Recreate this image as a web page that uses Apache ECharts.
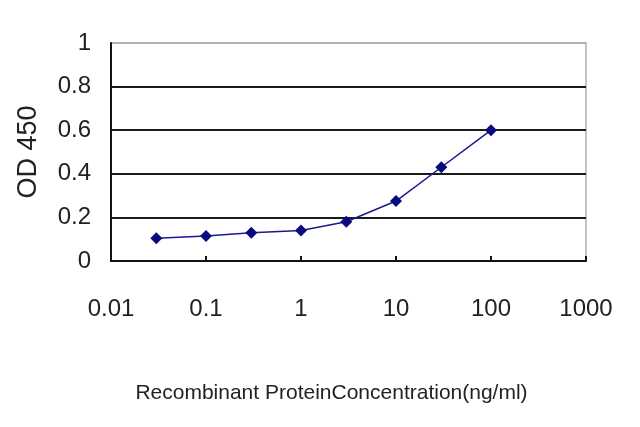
<!DOCTYPE html>
<html>
<head>
<meta charset="utf-8">
<script src="https://cdn.jsdelivr.net/npm/echarts@6/dist/echarts.min.js"></script>
<style>
html, body { margin: 0; padding: 0; background: #fff; }
#chart { width: 640px; height: 427px; }
</style>
</head>
<body>
<div id="chart"></div>
<script>
// concentration (ng/ml) and OD 450 readings
var concentrations = [0.03, 0.1, 0.3, 1, 3, 10, 30, 100];
var odValues = [0.104, 0.115, 0.13, 0.14, 0.18, 0.275, 0.43, 0.60];
var yTicks = [0, 0.2, 0.4, 0.6, 0.8, 1];

var points = [];
for (var i = 0; i < concentrations.length; i++) {
	points.push([concentrations[i], odValues[i]]);
}

var myChart = echarts.init(document.getElementById('chart'));
var option = {
	animation: false,
	textStyle: { fontFamily: 'Liberation Sans' },
	grid: {
		left: 111,
		right: 54,
		top: 43,
		bottom: 166,
		containLabel: false,
		outerBoundsMode: 'none',
		show: true,
		borderColor: '#b0b0b0',
		borderWidth: 1.5,
		backgroundColor: '#fff'
	},
	xAxis: {
		type: 'log',
		logBase: 10,
		min: 0.01,
		max: 1000,
		name: 'Recombinant ProteinConcentration(ng/ml)',
		nameLocation: 'middle',
		nameGap: 122,
		nameTextStyle: { fontSize: 21, color: '#222', padding: [0, 34, 0, 0] },
		axisLine: { show: true, lineStyle: { color: '#111', width: 2 } },
		axisTick: { show: true, inside: true, length: 5, lineStyle: { color: '#111', width: 2 } },
		axisLabel: {
			fontSize: 24,
			color: '#222',
			margin: 36,
			formatter: function(v) { return String(v); }
		},
		splitLine: { show: false },
		minorTick: { show: false }
	},
	yAxis: {
		type: 'value',
		min: 0,
		max: 1,
		interval: 0.2,
		name: 'OD 450',
		nameLocation: 'middle',
		nameGap: 69,
		nameTextStyle: { fontSize: 27, color: '#222' },
		axisLine: { show: true, lineStyle: { color: '#111', width: 2 } },
		axisTick: { show: false },
		axisLabel: {
			fontSize: 24,
			color: '#222',
			margin: 20,
			formatter: function(v) {
				for (var k = 0; k < yTicks.length; k++) {
					if (Math.abs(v - yTicks[k]) < 1e-6) return String(yTicks[k]);
				}
				return '';
			}
		},
		splitLine: {
			show: true,
			lineStyle: {
				color: ['#1a1a1a', '#1a1a1a', '#1a1a1a', '#1a1a1a', '#1a1a1a', '#b0b0b0'],
				width: 2
			}
		}
	},
	series: [{
		type: 'line',
		data: points,
		symbol: 'diamond',
		symbolSize: 12,
		itemStyle: { color: '#0a0a80' },
		lineStyle: { color: '#1a1a90', width: 1.5 }
	}]
};
myChart.setOption(option);
</script>
</body>
</html>
